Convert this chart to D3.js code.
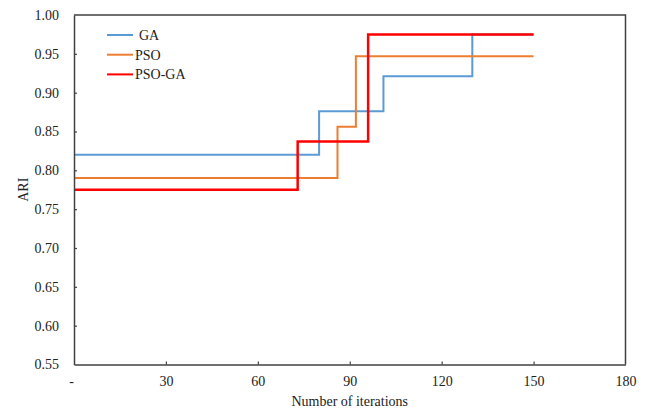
<!DOCTYPE html>
<html>
<head>
<meta charset="utf-8">
<script src="https://cdn.jsdelivr.net/npm/d3@7"></script>
<style>
  body { margin: 0; background: #fff; }
  text { font-family: "Liberation Serif", "Times New Roman", serif; fill: #222; }
</style>
</head>
<body>
<div class="chart"></div>
<script>
var width = 646;
var height = 409;
var margin = {top: 15, right: 20.5, bottom: 44.5, left: 74};

// data
var gaIter = [0, 80, 101, 130, 150];
var gaAri = [0.82, 0.876, 0.921, 0.975, 0.975];
var psoIter = [0, 86, 92, 150];
var psoAri = [0.79, 0.856, 0.947, 0.947];
var psogaIter = [0, 73, 96, 150];
var psogaAri = [0.775, 0.837, 0.975, 0.975];
var seriesNames = ['GA', 'PSO', 'PSO-GA'];
var seriesColors = ['#5B9BD5', '#ED7D31', '#FF0000'];
var xTicks = [0, 30, 60, 90, 120, 150, 180];
var yTicks = [0.55, 0.60, 0.65, 0.70, 0.75, 0.80, 0.85, 0.90, 0.95, 1.00];

function pairs(xs, ys) {
  return xs.map(function(x, i){ return {x: x, y: ys[i]} })
}
var series = [
  {name: seriesNames[0], color: seriesColors[0], w: 2, pts: pairs(gaIter, gaAri)},
  {name: seriesNames[1], color: seriesColors[1], w: 2, pts: pairs(psoIter, psoAri)},
  {name: seriesNames[2], color: seriesColors[2], w: 2.5, pts: pairs(psogaIter, psogaAri)}
]

var svg = d3.select('div.chart').append('svg')
    .attr('width', width)
    .attr('height', height)

var x_scale = d3.scaleLinear()
    .domain([0, 180])
    .range([margin.left, width - margin.right])
var y_scale = d3.scaleLinear()
    .domain([0.55, 1])
    .range([height - margin.bottom, margin.top])

var line = d3.line()
    .x(function(d){ return x_scale(d.x) })
    .y(function(d){ return y_scale(d.y) })
    .curve(d3.curveStepAfter)

// frame (top and right)
svg.append('path')
    .attr('d', 'M' + x_scale(0) + ',' + y_scale(1) + 'H' + x_scale(180) + 'V' + y_scale(0.55))
    .attr('fill', 'none')
    .attr('stroke', '#404040')
    .attr('stroke-width', 1.5)

// lines
svg.append('g').selectAll('path')
    .data(series)
    .enter()
    .append('path')
    .attr('d', function(d){ return line(d.pts) })
    .attr('fill', 'none')
    .attr('stroke', function(d){ return d.color })
    .attr('stroke-width', function(d){ return d.w })

// axes
var y_axis = d3.axisLeft(y_scale)
    .tickValues(yTicks)
    .tickFormat(d3.format('.2f'))
    .tickSizeInner(-3)
    .tickSizeOuter(0)
    .tickPadding(15)
var x_axis = d3.axisBottom(x_scale)
    .tickValues(xTicks)
    .tickFormat(function(d){ return d === 0 ? '-' : d })
    .tickSizeInner(-3)
    .tickSizeOuter(0)
    .tickPadding(12)

var gy = svg.append('g')
    .attr('transform', 'translate(' + x_scale(0) + ',0)')
    .call(y_axis)
var gx = svg.append('g')
    .attr('transform', 'translate(0,' + y_scale(0.55) + ')')
    .call(x_axis)

;[gx, gy].forEach(function(g){
  g.select('.domain').attr('stroke', '#404040').attr('stroke-width', 1.5)
  g.selectAll('.tick line').attr('stroke', '#404040').attr('stroke-width', 1.2)
  g.selectAll('.tick text')
    .style('font-family', '"Liberation Serif", "Times New Roman", serif')
    .style('font-size', '14px')
    .attr('fill', '#222')
})
gy.selectAll('.tick').filter(function(d){ return d === 0.55 || d === 1 }).select('line').remove()
gx.selectAll('.tick').filter(function(d){ return d === 0 || d === 180 }).select('line').remove()
gx.selectAll('.tick').filter(function(d){ return d === 0 }).select('text').attr('dx', -3)

// axis titles
svg.append('text')
    .attr('x', (x_scale(0) + x_scale(180)) / 2)
    .attr('y', 406)
    .style('text-anchor', 'middle')
    .style('font-size', '14px')
    .text('Number of iterations')
svg.append('text')
    .attr('transform', 'translate(28,' + ((y_scale(1) + y_scale(0.55)) / 2) + ') rotate(-90)')
    .style('text-anchor', 'middle')
    .style('font-size', '14px')
    .text('ARI')

// legend
var legend = svg.append('g')
    .selectAll('g')
    .data(series)
    .enter()
    .append('g')
    .attr('transform', function(d, i){ return 'translate(107,' + (35 + i * 19.7) + ')' })
legend.append('line')
    .attr('x1', 0)
    .attr('x2', 26)
    .attr('stroke', function(d){ return d.color })
    .attr('stroke-width', 2)
legend.append('text')
    .attr('x', function(d, i){ return i === 0 ? 32 : 28 })
    .attr('dy', '0.35em')
    .style('font-size', '14px')
    .text(function(d){ return d.name })
</script>
</body>
</html>
